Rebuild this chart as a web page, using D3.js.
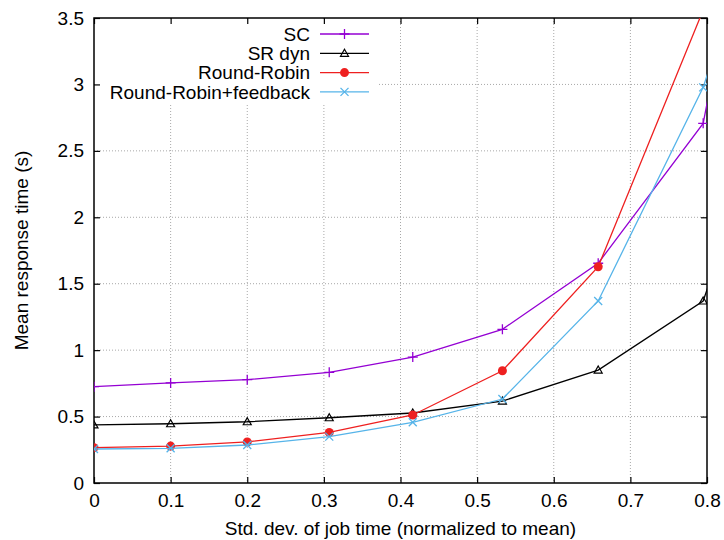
<!DOCTYPE html>
<html><head><meta charset="utf-8">
<script src="https://cdn.jsdelivr.net/npm/d3@7"></script>
<style>body{margin:0;background:#fff}svg{display:block}text{font-family:"Liberation Sans",Arial,sans-serif}</style>
</head><body><div id="chart"></div>
<script>
const xValues = [0, 0.1, 0.2, 0.307, 0.416, 0.533, 0.658, 0.795, 0.95];
const scValues = [0.725, 0.753, 0.778, 0.833, 0.948, 1.157, 1.654, 2.707, 7.3];
const srDynValues = [0.437, 0.446, 0.461, 0.491, 0.527, 0.617, 0.850, 1.370, 3.97];
const rrValues = [0.266, 0.278, 0.309, 0.381, 0.512, 0.845, 1.628, 3.56, 8.0];
const rrFbValues = [0.256, 0.261, 0.286, 0.349, 0.457, 0.632, 1.370, 2.978, 5.7];
const seriesNames = ["SC", "SR dyn", "Round-Robin", "Round-Robin+feedback"];
const seriesColors = ["#9400d3", "#000000", "#ee2020", "#56b4e9"];
const seriesMarkers = ["plus", "triangle", "circle", "cross"];
const xTicks = [0, 0.1, 0.2, 0.3, 0.4, 0.5, 0.6, 0.7, 0.8];
const yTicks = [0, 0.5, 1, 1.5, 2, 2.5, 3, 3.5];

const W = 724, H = 540;
const m = {left: 94, right: 17, top: 18, bottom: 57};
const pw = W - m.left - m.right, ph = H - m.top - m.bottom;
const FS = 19;
const svg = d3.select("#chart").append("svg").attr("width", W).attr("height", H);
const x = d3.scaleLinear().domain([0, 0.8]).range([m.left, m.left + pw]);
const y = d3.scaleLinear().domain([0, 3.5]).range([m.top + ph, m.top]);

svg.append("defs").append("clipPath").attr("id", "clip")
  .append("rect").attr("x", m.left).attr("y", m.top).attr("width", pw).attr("height", ph);

// grid
const grid = svg.append("g");
grid.selectAll(".gx").data(xTicks.slice(1, -1)).join("line")
  .attr("x1", d => x(d)).attr("x2", d => x(d)).attr("y1", m.top).attr("y2", m.top + ph)
  .attr("stroke", "#a8a8a8").attr("stroke-width", 1).attr("stroke-dasharray", "1,2");
grid.selectAll(".gy").data(yTicks.slice(1, -1)).join("line")
  .attr("x1", m.left).attr("x2", m.left + pw).attr("y1", d => y(d)).attr("y2", d => y(d))
  .attr("stroke", "#a8a8a8").attr("stroke-width", 1).attr("stroke-dasharray", "1,2");

// legend background
svg.append("rect").attr("x", m.left + 1).attr("y", m.top + 1).attr("width", 379 - m.left - 1).attr("height", 103 - m.top - 1).attr("fill", "#fff");

// axes (inward ticks, mirrored)
const tl = 6;
svg.append("g").attr("transform", `translate(0,${m.top + ph})`)
  .call(d3.axisBottom(x).tickValues(xTicks).tickSize(-tl).tickPadding(11).tickFormat(d3.format("")))
  .call(g => { g.select(".domain").remove(); g.selectAll("text").attr("font-size", FS).attr("fill", "#000"); });
svg.append("g").attr("transform", `translate(0,${m.top})`)
  .call(d3.axisTop(x).tickValues(xTicks).tickSize(-tl).tickFormat(""))
  .call(g => g.select(".domain").remove());
svg.append("g").attr("transform", `translate(${m.left},0)`)
  .call(d3.axisLeft(y).tickValues(yTicks).tickSize(-tl).tickPadding(10).tickFormat(d3.format("")))
  .call(g => { g.select(".domain").remove(); g.selectAll("text").attr("font-size", FS).attr("fill", "#000"); });
svg.append("g").attr("transform", `translate(${m.left + pw},0)`)
  .call(d3.axisRight(y).tickValues(yTicks).tickSize(-tl).tickFormat(""))
  .call(g => g.select(".domain").remove());
svg.selectAll(".tick line").attr("stroke", "#000").attr("stroke-width", 1.2);

svg.append("rect").attr("x", m.left).attr("y", m.top).attr("width", pw).attr("height", ph)
  .attr("fill", "none").attr("stroke", "#000").attr("stroke-width", 1.5);

// data
const allValues = [scValues, srDynValues, rrValues, rrFbValues];
const line = d3.line().x(d => x(d[0])).y(d => y(d[1]));
const plot = svg.append("g").attr("clip-path", "url(#clip)");

function marker(g, type, color, cx, cy) {
  if (type === "plus") {
    g.append("path").attr("d", `M${cx-5},${cy}h10M${cx},${cy-5}v10`).attr("stroke", color).attr("stroke-width", 1.3).attr("fill", "none");
  } else if (type === "cross") {
    g.append("path").attr("d", `M${cx-4},${cy-4}l8,8M${cx-4},${cy+4}l8,-8`).attr("stroke", color).attr("stroke-width", 1.3).attr("fill", "none");
  } else if (type === "triangle") {
    g.append("path").attr("d", `M${cx},${cy-4}L${cx+4},${cy+3}L${cx-4},${cy+3}Z`).attr("stroke", color).attr("stroke-width", 1.2).attr("fill", "none");
  } else {
    g.append("circle").attr("cx", cx).attr("cy", cy).attr("r", 4.5).attr("fill", color);
  }
}

allValues.forEach((vals, i) => {
  const pts = xValues.map((xv, j) => [xv, vals[j]]);
  plot.append("path").datum(pts).attr("d", line).attr("fill", "none")
    .attr("stroke", seriesColors[i]).attr("stroke-width", 1.3);
  const mg = plot.append("g");
  pts.forEach(p => marker(mg, seriesMarkers[i], seriesColors[i], x(p[0]), y(p[1])));
});

// legend
const ly0 = 34, lstep = 19.3;
seriesNames.forEach((name, i) => {
  const ly = ly0 + i * lstep;
  svg.append("text").attr("x", 310).attr("y", ly).attr("dy", "0.35em").attr("text-anchor", "end")
    .attr("font-size", FS).attr("fill", "#000").text(name);
  svg.append("line").attr("x1", 320).attr("x2", 369).attr("y1", ly).attr("y2", ly)
    .attr("stroke", seriesColors[i]).attr("stroke-width", 1.3);
  marker(svg.append("g"), seriesMarkers[i], seriesColors[i], 344.5, ly);
});

// axis titles
svg.append("text").attr("x", x(0.4)).attr("y", 535).attr("text-anchor", "middle")
  .attr("font-size", FS).attr("fill", "#000").text("Std. dev. of job time (normalized to mean)");
svg.append("text").attr("transform", `translate(28,${y(1.75)}) rotate(-90)`).attr("text-anchor", "middle")
  .attr("font-size", FS).attr("fill", "#000").text("Mean response time (s)");
</script></body></html>
